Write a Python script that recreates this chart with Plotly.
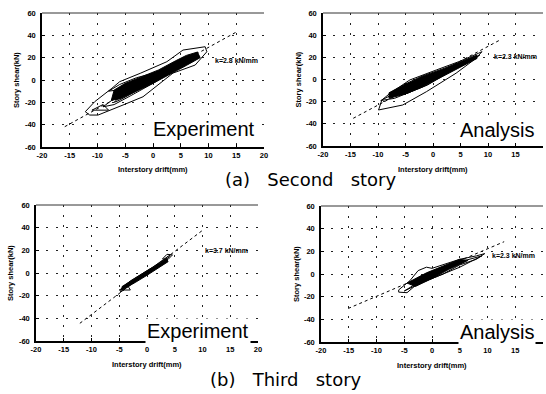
import plotly.graph_objects as go

# ---------------- data ----------------
x_ticks = [-20, -15, -10, -5, 0, 5, 10, 15, 20]
y_ticks = [-60, -40, -20, 0, 20, 40, 60]

# (a) Second story - Experiment
a_exp_outer_x = [-12.2, -10.5, -7.4, -6.0, -2.3, 2.5, 5.4, 9.4, 9.7, 7.6, 3.6, -1.8, -5.4, -7.7, -9.9, -11.4, -12.2]
a_exp_outer_y = [-28.4, -19.4, -7.4, -1.5, 6.0, 16.4, 26.8, 29.8, 25.3, 13.4, 6.2, -15.0, -22.4, -26.9, -31.4, -31.4, -28.4]
a_exp_inner_x = [-9.0, -6.0, -3.0, 0.0, 4.0, 7.0, 6.0, 3.0, 0.0, -4.0, -7.0, -9.0]
a_exp_inner_y = [-24.0, -13.0, -5.0, 2.0, 12.0, 22.0, 15.0, 6.0, -3.0, -14.0, -22.0, -24.0]
a_exp_loop3_x = [-7.0, -5.0, -2.0, 2.0, 6.0, 8.0, 7.0, 4.0, 1.0, -3.0, -6.0, -7.0]
a_exp_loop3_y = [-20.0, -10.0, -3.0, 6.0, 16.0, 25.0, 18.0, 9.0, 1.0, -10.0, -18.0, -20.0]
a_exp_loop4_x = [-8.0, -6.0, -3.0, 0.0, 3.0, 1.0, -2.0, -5.0, -8.0]
a_exp_loop4_y = [-10.0, -4.0, 2.0, 6.0, 10.0, 4.0, -2.0, -8.0, -10.0]
a_exp_small_x = [-11.0, -9.0, -8.0, -11.0]
a_exp_small_y = [-27.0, -22.0, -27.0, -27.0]
a_exp_core_x = [-7.0, -5.0, -2.0, 1.0, 4.0, 6.0, 8.0, 8.5, 6.0, 3.0, 0.0, -3.0, -6.0, -7.5, -7.0]
a_exp_core_y = [-9.0, -3.0, 3.0, 9.0, 17.0, 22.0, 25.0, 20.0, 13.0, 5.0, -3.0, -10.0, -17.0, -18.0, -9.0]
a_exp_k_x = [-15.9, 15.1]
a_exp_k_y = [-41.8, 43.2]
a_exp_k_label = "k=2.8 kN/mm"

# (a) Second story - Analysis
a_ana_outer_x = [-9.9, -9.3, -7.8, -4.2, 0.6, 4.75, 8.3, 8.9, 7.8, 4.2, -1.2, -5.5, -9.9]
a_ana_outer_y = [-27.5, -18.5, -12.4, -0.4, 8.6, 16.2, 23.7, 25.1, 19.0, 5.7, -11.0, -23.0, -27.5]
a_ana_inner_x = [-9.5, -6.0, -2.0, 3.0, 8.5, 5.0, 0.0, -4.0, -7.0, -9.5]
a_ana_inner_y = [-19.0, -10.0, -2.0, 8.0, 22.0, 12.0, 0.0, -11.0, -17.0, -19.0]
a_ana_loop3_x = [-8.0, -4.0, 0.0, 4.0, 7.0, 3.0, -1.0, -5.0, -8.0]
a_ana_loop3_y = [-14.0, -6.0, 2.0, 10.0, 18.0, 7.0, -5.0, -13.0, -14.0]
a_ana_core_x = [-8.0, -5.0, -2.0, 2.0, 5.0, 8.0, 8.0, 5.0, 2.0, -2.0, -5.0, -8.0, -8.0]
a_ana_core_y = [-12.0, -4.0, 3.0, 10.0, 16.0, 22.0, 19.0, 11.0, 3.0, -7.0, -13.0, -17.0, -12.0]
a_ana_k_x = [-14.5, 12.2]
a_ana_k_y = [-35.0, 35.7]
a_ana_k_label = "k=2.3 kN/mm"

# (b) Third story - Experiment
b_exp_outer_x = [-4.8, -4.5, -3.0, -1.0, 1.0, 3.0, 4.2, 3.8, 2.0, 0.0, -2.0, -3.5, -4.8]
b_exp_outer_y = [-17.0, -13.0, -7.0, -1.0, 5.0, 12.0, 16.0, 13.0, 6.0, 0.0, -7.0, -13.0, -17.0]
b_exp_small_x = [-5.0, -3.5, -3.0, -5.0]
b_exp_small_y = [-15.0, -11.0, -15.0, -15.0]
b_exp_top_x = [2.8, 3.6, 4.6, 3.8, 2.8]
b_exp_top_y = [12.5, 16.5, 16.0, 12.0, 12.5]
b_exp_core_x = [-4.5, -2.0, 0.0, 2.0, 3.5, 3.8, 2.0, 0.0, -2.0, -4.5, -4.5]
b_exp_core_y = [-12.0, -4.0, 2.0, 8.0, 13.0, 10.0, 4.0, -2.0, -8.0, -15.0, -12.0]
b_exp_k_x = [-12.1, 10.1]
b_exp_k_y = [-44.4, 38.0]
b_exp_k_label = "k=3.7 kN/mm"

# (b) Third story - Analysis
b_ana_outer_x = [-6.0, -4.0, -2.5, -1.0, 0.0, 2.0, 5.0, 8.0, 9.5, 8.0, 5.0, 2.0, 0.0, -2.0, -3.5, -4.5, -6.0, -6.0]
b_ana_outer_y = [-14.0, -6.0, 3.0, 6.0, 5.0, 8.0, 13.0, 16.0, 18.0, 13.0, 8.0, 0.0, -4.0, -6.0, -12.0, -16.5, -16.0, -14.0]
b_ana_inner_x = [-5.0, -3.0, -1.0, 2.0, 6.0, 9.0, 5.0, 1.0, -2.0, -5.0]
b_ana_inner_y = [-15.0, -9.0, -3.0, 3.0, 12.0, 16.0, 6.0, -2.0, -8.0, -15.0]
b_ana_core_x = [-4.5, -1.0, 2.0, 5.0, 6.5, 3.0, 0.0, -3.0, -4.5]
b_ana_core_y = [-8.0, 1.0, 7.0, 13.0, 12.0, 4.0, -4.0, -11.0, -8.0]
b_ana_k_x = [-15.1, 13.0]
b_ana_k_y = [-30.4, 28.5]
b_ana_k_label = "k=2.3 kN/mm"

panel_titles = ["Experiment", "Analysis", "Experiment", "Analysis"]
captions = ["(a)   Second   story", "(b)   Third   story"]
x_title = "Interstory drift(mm)"
y_title = "Story shear(kN)"

# ---------------- layout geometry (pixels -> paper) ----------------
W, H = 546, 394
panels = [
    # (x0, x1, ytop, ybottom) in pixels
    (42, 264, 13, 147),
    (323, 543, 13, 146),
    (36, 258, 205, 341),
    (321, 543, 206, 342),
]

FONT = "Liberation Sans, Arial, sans-serif"
CAP_FONT = "DejaVu Sans, sans-serif"
fig = go.Figure()

panel_data = [
    dict(loops=[(a_exp_outer_x, a_exp_outer_y), (a_exp_inner_x, a_exp_inner_y), (a_exp_loop3_x, a_exp_loop3_y),
                (a_exp_loop4_x, a_exp_loop4_y), (a_exp_small_x, a_exp_small_y)],
         core=(a_exp_core_x, a_exp_core_y), k=(a_exp_k_x, a_exp_k_y), label=a_exp_k_label,
         lab_pos=(10.8, 17.5), title_y=-44),
    dict(loops=[(a_ana_outer_x, a_ana_outer_y), (a_ana_inner_x, a_ana_inner_y), (a_ana_loop3_x, a_ana_loop3_y)],
         core=(a_ana_core_x, a_ana_core_y), k=(a_ana_k_x, a_ana_k_y), label=a_ana_k_label,
         lab_pos=(10.7, 21.0), title_y=-46),
    dict(loops=[(b_exp_outer_x, b_exp_outer_y), (b_exp_small_x, b_exp_small_y), (b_exp_top_x, b_exp_top_y)],
         core=(b_exp_core_x, b_exp_core_y), k=(b_exp_k_x, b_exp_k_y), label=b_exp_k_label,
         lab_pos=(10.0, 19.5), title_y=-51),
    dict(loops=[(b_ana_outer_x, b_ana_outer_y), (b_ana_inner_x, b_ana_inner_y)],
         core=(b_ana_core_x, b_ana_core_y), k=(b_ana_k_x, b_ana_k_y), label=b_ana_k_label,
         lab_pos=(10.5, 16.0), title_y=-51),
]

layout_axes = {}
annotations = []
for i, ((x0, x1, yt, yb), pd_) in enumerate(zip(panels, panel_data)):
    n = "" if i == 0 else str(i + 1)
    xa, ya = "x" + n, "y" + n
    cx, cy = pd_["core"]
    fig.add_trace(go.Scatter(x=cx, y=cy, mode="lines", fill="toself", fillcolor="black",
                             line=dict(color="black", width=1), xaxis=xa, yaxis=ya, showlegend=False))
    for lx, ly in pd_["loops"]:
        fig.add_trace(go.Scatter(x=lx, y=ly, mode="lines", line=dict(color="black", width=1),
                                 xaxis=xa, yaxis=ya, showlegend=False))
    kx, ky = pd_["k"]
    fig.add_trace(go.Scatter(x=kx, y=ky, mode="lines", line=dict(color="black", width=1, dash="dot"),
                             xaxis=xa, yaxis=ya, showlegend=False))

    xd = [x0 / W, x1 / W]
    yd = [1 - yb / H, 1 - yt / H]
    axis_common = dict(showgrid=True, gridcolor="#222", gridwidth=1, griddash="2px,8px",
                       zeroline=False, showline=True, linecolor="black",
                       ticks="inside", ticklen=3, tickcolor="black",
                       tickfont=dict(family=FONT, size=7.5, color="black", weight="bold"),
                       automargin=False, fixedrange=True)
    layout_axes["xaxis" + n] = dict(axis_common, domain=xd, range=[-20, 20], tickvals=x_ticks,
                                    ticktext=[str(v) for v in x_ticks], anchor=ya, linewidth=1.5)
    layout_axes["yaxis" + n] = dict(axis_common, domain=yd, range=[-60, 60], tickvals=y_ticks,
                                    ticktext=[str(v) for v in y_ticks], anchor=xa, linewidth=1.5,
                                    ticklabelstandoff=3)

    annotations.append(dict(x=pd_["lab_pos"][0], y=pd_["lab_pos"][1], xref=xa, yref=ya, text=pd_["label"],
                            showarrow=False, xanchor="left", yanchor="middle",
                            font=dict(family=FONT, size=7, color="black", weight="bold")))
    annotations.append(dict(x=18.8, y=pd_["title_y"], xref=xa, yref=ya, text=panel_titles[i],
                            showarrow=False, xanchor="right", yanchor="middle", bgcolor="white",
                            font=dict(family=FONT, size=20, color="black")))
    annotations.append(dict(x=(xd[0] + xd[1]) / 2, y=yd[0] - 23 / H, xref="paper", yref="paper",
                            text=x_title, showarrow=False, xanchor="center", yanchor="middle",
                            font=dict(family=FONT, size=7.5, color="black", weight="bold")))
    annotations.append(dict(x=xd[0] - 25 / W, y=(yd[0] + yd[1]) / 2, xref="paper", yref="paper",
                            text=y_title, showarrow=False, textangle=-90, xanchor="center", yanchor="middle",
                            font=dict(family=FONT, size=7.5, color="black", weight="bold")))
    fig.add_shape(type="line", xref="paper", yref="paper", x0=xd[0], x1=xd[1], y0=yd[1], y1=yd[1],
                  line=dict(color="#333", width=1))

annotations.append(dict(x=310 / W, y=1 - 179 / H, xref="paper", yref="paper", text=captions[0],
                        showarrow=False, xanchor="center", yanchor="middle",
                        font=dict(family=CAP_FONT, size=18, color="black")))
annotations.append(dict(x=286 / W, y=1 - 379 / H, xref="paper", yref="paper", text=captions[1],
                        showarrow=False, xanchor="center", yanchor="middle",
                        font=dict(family=CAP_FONT, size=18, color="black")))

fig.update_layout(width=W, height=H, margin=dict(l=0, r=0, t=0, b=0),
                  paper_bgcolor="white", plot_bgcolor="white", annotations=annotations,
                  showlegend=False, **layout_axes)
fig.write_html("out.html")
